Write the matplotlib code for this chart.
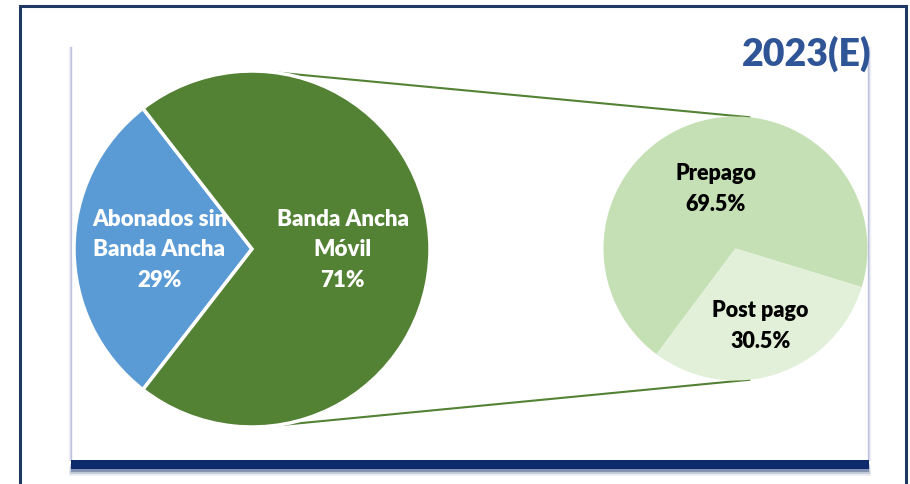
import numpy as np
import matplotlib
matplotlib.use("Agg")
import matplotlib.pyplot as plt
from matplotlib.patches import Rectangle

# data
main_labels = ["Abonados sin\nBanda Ancha", "Banda Ancha\nMóvil"]
main_values = [29, 71]
main_colors = ["#5B9BD5", "#548235"]

sub_labels = ["Prepago", "Post pago"]
sub_values = [69.5, 30.5]
sub_colors = ["#C5E0B4", "#E2F0D9"]

title = "2023(E)"

W, H = 910, 485
fig = plt.figure(figsize=(W / 100, H / 100), dpi=100)
ax = fig.add_axes([0, 0, 1, 1])

# geometry in pixel units (y measured upwards)
c_big, r_big = (252, H - 250), 178
c_small, r_small = (735.5, H - 249.5), 132

# frame: outer navy border (runs below the image)
ax.add_patch(Rectangle((20, -20), 886, H - 7 + 20, fill=False,
                       edgecolor="#1F3864", lw=2.2, zorder=1))
# inner box edges with soft fade
for i, a in enumerate([0.55, 0.25, 0.1]):
    ax.plot([70.5 - i, 70.5 - i], [H - 461, H - 48], color="#8C96C4", alpha=a, lw=1, zorder=1)
    ax.plot([868.5 + i, 868.5 + i], [H - 461, H - 48], color="#8C96C4", alpha=a, lw=1, zorder=1)
for i, a in enumerate([0.35, 0.18, 0.08]):
    ax.add_patch(Rectangle((71 - i, H - 473 - 2 * i), 798 + 2 * i, 10, color="#0E2A6B",
                           alpha=a, lw=0, zorder=1))
ax.add_patch(Rectangle((71, H - 470), 798, 9, color="#0E2A6B", lw=0, zorder=2))

# big pie
start_big = 180 - main_values[0] / sum(main_values) * 360 / 2
ax.pie(main_values, colors=main_colors, center=c_big, radius=r_big,
       startangle=start_big, counterclock=True,
       wedgeprops=dict(edgecolor="white", linewidth=2.5), frame=True)

# small pie
ax.pie(sub_values, colors=sub_colors, center=c_small, radius=r_small,
       startangle=-17, counterclock=True,
       wedgeprops=dict(linewidth=0), frame=True)

# connector lines
ang = np.deg2rad(84)
for s in (1, -1):
    x0 = c_big[0] + r_big * np.cos(ang)
    y0 = c_big[1] + s * r_big * np.sin(ang)
    x1 = c_small[0] + r_small * np.cos(ang)
    y1 = c_small[1] + s * r_small * np.sin(ang)
    ax.plot([x0, x1], [y0, y1], color="#548235", lw=1.5, zorder=0.5)

font = ["Lato", "DejaVu Sans"]

# labels big pie
tot = sum(main_values)
angle = start_big
for lab, v, dist in zip(main_labels, main_values, [0.52, 0.51]):
    span = v / tot * 360
    mid = np.deg2rad(angle + span / 2)
    angle += span
    x = c_big[0] + dist * r_big * np.cos(mid)
    y = c_big[1] + dist * r_big * np.sin(mid)
    ax.text(x, y, f"{lab}\n{v}%", ha="center", va="center", color="white",
            fontsize=16, fontweight="heavy", family=font, linespacing=1.55, zorder=5)

# labels small pie
tot = sum(sub_values)
angle = -17
for lab, v, dist in zip(sub_labels, sub_values, [0.485, 0.61]):
    span = v / tot * 360
    mid = np.deg2rad(angle + span / 2)
    angle += span
    x = c_small[0] + dist * r_small * np.cos(mid)
    y = c_small[1] + dist * r_small * np.sin(mid)
    ax.text(x, y, f"{lab}\n{v}%", ha="center", va="center", color="black",
            fontsize=15.5, fontweight="heavy", family=font, linespacing=1.6, zorder=5)

ax.text(871, H - 54, title, ha="right", va="center", color="#2F5597",
        fontsize=27, fontweight="heavy", family=font, zorder=5)

ax.set_xlim(0, W)
ax.set_ylim(0, H)
ax.set_aspect("equal")
ax.axis("off")

fig.savefig("out.png", dpi=100)
